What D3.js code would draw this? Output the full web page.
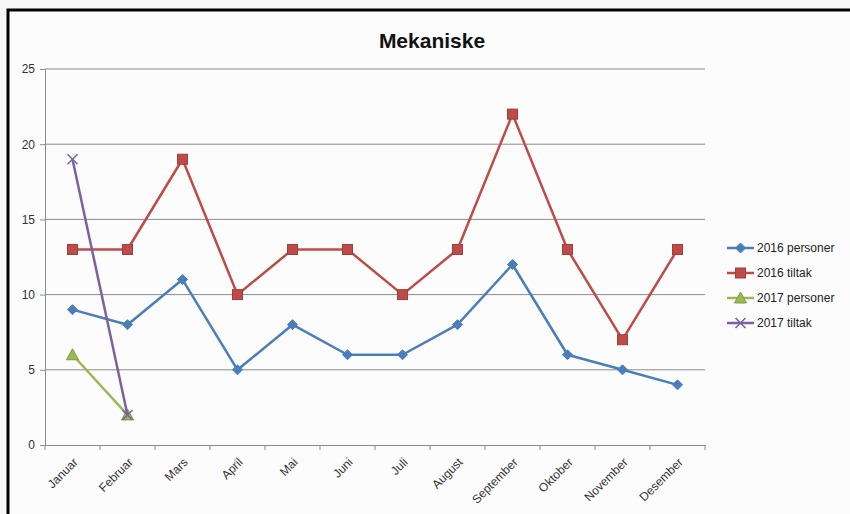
<!DOCTYPE html>
<html>
<head>
<meta charset="utf-8">
<script src="https://cdn.jsdelivr.net/npm/d3@7"></script>
<style>
  body { margin: 0; background: #f7f7f7; }
  svg { display: block; font-family: "Liberation Sans", Arial, sans-serif; }
</style>
</head>
<body>
<div id="chart"></div>
<script>
// data
const months = ["Januar", "Februar", "Mars", "April", "Mai", "Juni", "Juli", "August", "September", "Oktober", "November", "Desember"];
const personer2016 = [9, 8, 11, 5, 8, 6, 6, 8, 12, 6, 5, 4];
const tiltak2016 = [13, 13, 19, 10, 13, 13, 10, 13, 22, 13, 7, 13];
const personer2017 = [6, 2];
const tiltak2017 = [19, 2];
const yTicks = [0, 5, 10, 15, 20, 25];

const series = [
    { name: "2016 personer", values: personer2016, color: "#4a7ebb", marker: "diamond" },
    { name: "2016 tiltak", values: tiltak2016, color: "#be4b48", marker: "square" },
    { name: "2017 personer", values: personer2017, color: "#98b954", marker: "triangle" },
    { name: "2017 tiltak", values: tiltak2017, color: "#7d60a0", marker: "cross" }
];

const W = 850, H = 514;
const margin = { top: 69, right: 145, bottom: 69, left: 45 };
const width = W - margin.left - margin.right;
const height = H - margin.top - margin.bottom;

const root = d3.select("#chart").append("svg")
    .attr("width", W)
    .attr("height", H);

// frame with black border on top and left
root.append("rect").attr("x", 8).attr("y", 10).attr("width", W).attr("height", H)
    .attr("fill", "#fcfcfc").attr("stroke", "#000").attr("stroke-width", 3);

root.append("text")
    .attr("x", 432).attr("y", 48)
    .attr("text-anchor", "middle")
    .style("font-size", "21px").style("font-weight", "bold")
    .attr("fill", "#111")
    .text("Mekaniske");

const svg = root.append("g").attr("transform", `translate(${margin.left},${margin.top})`);

const x = d3.scaleBand().domain(months).range([0, width]);
const y = d3.scaleLinear().domain([0, 25]).range([height, 0]);

// gridlines
svg.selectAll(".grid").data(yTicks.slice(1)).enter().append("line")
    .attr("x1", 0).attr("x2", width)
    .attr("y1", d => y(d)).attr("y2", d => y(d))
    .attr("stroke", "#8c8c8c").attr("stroke-width", 1);

// y axis
const yAxis = svg.append("g").call(d3.axisLeft(y).tickValues(yTicks).tickSize(5).tickPadding(5));
yAxis.select(".domain").attr("stroke", "#8c8c8c");
yAxis.selectAll(".tick line").attr("stroke", "#8c8c8c");
yAxis.selectAll("text").style("font-size", "12px").attr("fill", "#333");

// x axis with ticks on band boundaries
const xAxis = svg.append("g").attr("transform", `translate(0,${height})`)
    .call(d3.axisBottom(x).tickSize(0).tickSizeOuter(0));
xAxis.select(".domain").attr("stroke", "#8c8c8c");
xAxis.selectAll("text")
    .style("font-size", "12px").attr("fill", "#333")
    .attr("text-anchor", "end")
    .attr("x", 0).attr("y", 0).attr("dy", "0.35em")
    .attr("transform", "translate(3,15) rotate(-45)");
svg.append("g").selectAll("line").data(d3.range(months.length + 1)).enter().append("line")
    .attr("x1", d => d * x.bandwidth()).attr("x2", d => d * x.bandwidth())
    .attr("y1", height).attr("y2", height + 5)
    .attr("stroke", "#8c8c8c");

const cx = (d, i) => x(months[i]) + x.bandwidth() / 2;
const line = d3.line().x(cx).y(d => y(d));

function drawMarker(g, type, color) {
    if (type === "diamond") {
        g.append("path").attr("d", "M0,-5L5,0L0,5L-5,0Z").attr("fill", color).attr("stroke", color);
    } else if (type === "square") {
        g.append("rect").attr("x", -5).attr("y", -5).attr("width", 10).attr("height", 10)
            .attr("fill", color).attr("stroke", d3.color(color).darker(0.5));
    } else if (type === "triangle") {
        g.append("path").attr("d", "M0,-6L6,5L-6,5Z").attr("fill", color).attr("stroke", d3.color(color).darker(0.5));
    } else {
        g.append("path").attr("d", "M-5,-5L5,5M-5,5L5,-5").attr("stroke", color).attr("stroke-width", 1.5).attr("fill", "none");
    }
}

series.forEach(s => {
    svg.append("path").datum(s.values)
        .attr("d", line)
        .attr("fill", "none")
        .attr("stroke", s.color)
        .attr("stroke-width", 2.5)
        .attr("stroke-linejoin", "round");
    s.values.forEach((v, i) => {
        const g = svg.append("g").attr("transform", `translate(${cx(v, i)},${y(v)})`);
        drawMarker(g, s.marker, s.color);
    });
});

// legend
const legend = root.append("g").attr("transform", "translate(727,248)");
series.forEach((s, i) => {
    const g = legend.append("g").attr("transform", `translate(0,${i * 25})`);
    g.append("line").attr("x1", 0).attr("x2", 27).attr("stroke", s.color).attr("stroke-width", 2.5);
    const m = g.append("g").attr("transform", "translate(13.5,0)");
    drawMarker(m, s.marker, s.color);
    g.append("text").attr("x", 30).attr("dy", "0.35em")
        .style("font-size", "12px").attr("fill", "#222")
        .text(s.name);
});
</script>
</body>
</html>
